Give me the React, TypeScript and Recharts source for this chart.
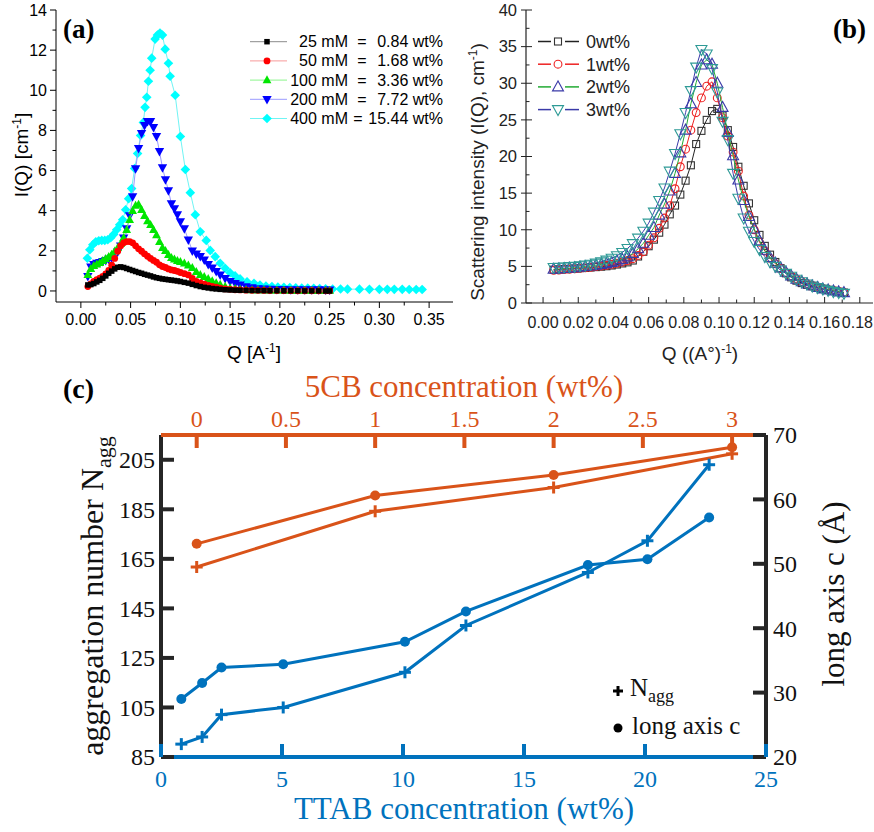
import React from 'react'
import { ScatterChart, Scatter, XAxis, YAxis } from 'recharts'

const SANS = '"Liberation Sans", Arial, sans-serif'
const SERIF = '"Liberation Serif", "Times New Roman", serif'

const ORANGE = '#D95319'
const BLUE = '#0072BD'
const DARK = '#262626'

// ---- (a) SANS curves, I(Q) in cm^-1 ----
const qA = [
  0.007, 0.01, 0.013, 0.016, 0.019, 0.022, 0.025, 0.028, 0.031, 0.034, 0.037, 0.04, 0.043, 0.046, 0.049, 0.052,
  0.055, 0.058, 0.061, 0.064, 0.067, 0.07, 0.073, 0.076, 0.079, 0.082, 0.085, 0.088, 0.091, 0.094, 0.097, 0.1,
  0.104, 0.108, 0.112, 0.116, 0.12, 0.124, 0.128, 0.132, 0.136, 0.14,
  0.145, 0.15, 0.155, 0.16,
  0.166, 0.172, 0.178, 0.184, 0.19,
  0.197, 0.204, 0.211, 0.218, 0.225, 0.232, 0.239, 0.246,
  0.25,
]
const iA25 = [
  0.3, 0.32, 0.37, 0.45, 0.53, 0.63, 0.75, 0.88, 0.99, 1.1, 1.18, 1.2, 1.17, 1.12, 1.07, 1.02,
  0.97, 0.92, 0.88, 0.83, 0.79, 0.75, 0.7, 0.66, 0.63, 0.6, 0.58, 0.56, 0.54, 0.52, 0.5, 0.47,
  0.43, 0.39, 0.33, 0.27, 0.22, 0.18, 0.15, 0.12, 0.1, 0.08,
  0.06, 0.05, 0.04, 0.035,
  0.03, 0.025, 0.02, 0.02, 0.015,
  0.015, 0.01, 0.01, 0.01, 0.005, 0.005, 0.005, 0.0,
  0.0,
]
const iA50 = [
  0.22, 0.35, 0.48, 0.56, 0.64, 0.72, 0.85, 1.02, 1.28, 1.62, 1.98, 2.25, 2.4, 2.46, 2.46, 2.4,
  2.25, 2.1, 1.98, 1.85, 1.73, 1.62, 1.52, 1.43, 1.3, 1.22, 1.17, 1.1, 1.05, 1.02, 0.98, 0.92,
  0.86, 0.8, 0.62, 0.48, 0.4, 0.34, 0.28, 0.23, 0.19, 0.14,
  0.1, 0.08, 0.06, 0.05,
  0.04, 0.035, 0.03, 0.025, 0.02,
  0.02, 0.015, 0.015, 0.01, 0.01, 0.01, 0.005, 0.005,
  0.005,
]
const iA100 = [
  0.8, 1.1, 1.25, 1.33, 1.4, 1.5, 1.6, 1.7, 1.82, 1.98, 2.15, 2.35, 2.65, 3.05, 3.55, 4.0,
  4.25, 4.3, 4.05, 3.75, 3.48, 3.3, 3.05, 2.78, 2.45, 2.15, 2.0, 1.8, 1.65, 1.58, 1.5, 1.45,
  1.38, 1.28, 1.15, 0.95, 0.8, 0.7, 0.6, 0.5, 0.4, 0.32,
  0.22, 0.15, 0.11, 0.08,
  0.06, 0.05, 0.045, 0.04, 0.035,
  0.03, 0.03, 0.025, 0.025, 0.02, 0.02, 0.02, 0.015,
  0.015,
]
const iA200 = [
  0.72, 1.2, 1.32, 1.38, 1.42, 1.47, 1.52, 1.58, 1.65, 1.75, 1.95, 2.25, 2.65, 3.1, 3.75, 4.7,
  6.1, 7.1, 7.85, 8.25, 8.45, 8.45, 8.15, 7.7, 6.95, 6.15, 5.55, 5.0, 4.35, 4.1, 3.8, 3.45,
  3.1, 2.55, 2.0, 1.85, 1.72, 1.55, 1.32, 1.15, 0.98, 0.8,
  0.62, 0.48, 0.38, 0.3,
  0.22, 0.16, 0.12, 0.1, 0.09,
  0.08, 0.08, 0.07, 0.07, 0.06, 0.06, 0.06, 0.05,
  0.05,
]
const qA400 = [
  0.0065, 0.009, 0.012, 0.015, 0.018, 0.021, 0.024, 0.027, 0.03, 0.033,
  0.036, 0.039, 0.042, 0.045, 0.048, 0.051, 0.054, 0.057, 0.06, 0.0628,
  0.0645, 0.0662, 0.0679, 0.0696, 0.0712, 0.0746, 0.077, 0.0795, 0.082, 0.0847,
  0.088, 0.0897, 0.0948, 0.1, 0.105, 0.11, 0.115, 0.12, 0.126, 0.13,
  0.135, 0.14, 0.145, 0.15, 0.155, 0.16, 0.167, 0.174, 0.18, 0.186,
  0.192, 0.198, 0.204, 0.21, 0.216, 0.222, 0.228, 0.234, 0.24, 0.246,
  0.253, 0.261, 0.268, 0.28, 0.29, 0.3, 0.308, 0.315, 0.323, 0.33,
  0.337, 0.343,
]
const iA400 = [
  1.63, 2.05, 2.3, 2.45, 2.5, 2.52, 2.52, 2.55, 2.65, 2.82,
  3.05, 3.3, 3.55, 4.05, 4.6, 5.1, 6.1, 6.85, 7.75, 8.4,
  9.15, 9.65, 10.45, 11.0, 11.6, 12.55, 12.75, 12.85, 12.75, 12.05,
  11.35, 10.7, 9.75, 7.7, 6.05, 4.9, 3.8, 2.95, 2.52, 2.02,
  1.71, 1.38, 1.13, 0.91, 0.75, 0.6, 0.46, 0.38, 0.3, 0.25,
  0.22, 0.2, 0.18, 0.17, 0.16, 0.15, 0.14, 0.13, 0.12, 0.11,
  0.1, 0.1, 0.09, 0.09, 0.08, 0.08, 0.08, 0.08, 0.08, 0.07,
  0.07, 0.07,
]
const legendA = [
  { conc: '25 mM', wt: '0.84 wt%' },
  { conc: '50 mM', wt: '1.68 wt%' },
  { conc: '100 mM', wt: '3.36 wt%' },
  { conc: '200 mM', wt: '7.72 wt%' },
  { conc: '400 mM', wt: '15.44 wt%' },
]

// ---- (b) SAXS curves with 5CB ----
const qB = [
  0.006, 0.009, 0.012, 0.015, 0.018, 0.021, 0.024, 0.027, 0.03, 0.033,
  0.036, 0.039, 0.042, 0.045, 0.048, 0.051, 0.054, 0.057, 0.06, 0.063,
  0.066, 0.069, 0.072, 0.075, 0.078, 0.081, 0.084, 0.087, 0.09, 0.093,
  0.096, 0.099, 0.102, 0.105, 0.108, 0.111, 0.114, 0.117, 0.12, 0.123,
  0.126, 0.129, 0.132, 0.135, 0.138, 0.141, 0.144, 0.147, 0.15, 0.153,
  0.156, 0.159, 0.162, 0.165, 0.168, 0.171,
]
const iB0 = [
  4.55, 4.58, 4.62, 4.66, 4.7, 4.75, 4.8, 4.85, 4.9, 4.96,
  5.02, 5.12, 5.25, 5.4, 5.55, 5.8, 6.35, 7.0, 7.75, 8.65,
  9.6, 10.7, 12.1, 13.3, 14.8, 16.7, 18.8, 21.7, 23.5, 25.0,
  26.2, 26.5, 25.6, 23.6, 21.3, 18.6, 16.0, 13.6, 11.3, 9.3,
  7.8, 6.6, 5.6, 4.75, 4.05, 3.5, 3.05, 2.72, 2.48, 2.27,
  2.07, 1.92, 1.79, 1.68, 1.55, 1.42,
]
const iB1 = [
  4.45, 4.5, 4.55, 4.6, 4.66, 4.72, 4.8, 4.88, 4.96, 5.05,
  5.15, 5.28, 5.42, 5.6, 5.8, 6.05, 6.5, 7.0, 7.9, 8.9,
  10.2, 11.6, 13.3, 15.6, 18.6, 21.0, 23.6, 26.0, 28.0, 29.6,
  30.2, 28.0, 25.3, 22.8, 20.6, 18.0, 14.6, 12.0, 10.0, 8.3,
  7.1, 6.1, 5.35, 4.7, 4.15, 3.7, 3.3, 2.95, 2.65, 2.4,
  2.2, 2.0, 1.85, 1.7, 1.58, 1.45,
]
const iB2 = [
  4.6, 4.65, 4.7, 4.75, 4.82, 4.9, 4.98, 5.06, 5.15, 5.26,
  5.38, 5.52, 5.7, 5.95, 6.3, 6.75, 7.4, 8.15, 9.25, 10.3,
  12.0, 13.5, 15.3, 17.7, 20.5, 23.6, 27.2, 30.1, 32.5, 33.2,
  32.6, 30.0, 26.7, 23.3, 20.1, 16.8, 14.0, 11.8, 10.1, 8.5,
  7.2, 6.2, 5.45, 4.8, 4.2, 3.7, 3.25, 2.9, 2.6, 2.35,
  2.12, 1.93, 1.78, 1.65, 1.52, 1.42,
]
const iB3 = [
  4.85, 4.88, 4.92, 4.96, 5.0, 5.08, 5.18, 5.3, 5.45, 5.62,
  5.85, 6.1, 6.45, 6.9, 7.45, 8.1, 8.85, 9.8, 10.9, 12.4,
  14.0, 15.7, 18.0, 20.4, 23.1, 26.0, 29.0, 32.2, 34.6, 34.0,
  32.0, 28.8, 24.8, 22.3, 17.7, 14.3, 11.6, 9.8, 8.4, 7.3,
  6.35, 5.6, 5.0, 4.5, 4.05, 3.65, 3.25, 2.9, 2.6, 2.32,
  2.1, 1.9, 1.72, 1.55, 1.42, 1.32,
]
const legendB = ['0wt%', '1wt%', '2wt%', '3wt%']

// ---- (c) micelle size vs. concentration ----
const ttabWt = [0.84, 1.7, 2.5, 5.05, 10.08, 12.6, 17.64, 20.1, 22.65]
const ttabNagg = [90.2, 93.1, 102.1, 105.0, 119.2, 138.1, 159.5, 172.3, 203.0]
const ttabAxisC = [29.0, 31.5, 33.9, 34.4, 37.9, 42.6, 49.8, 50.7, 57.2]
const cbWt = [0, 1, 2, 3]
const cbNagg = [161.7, 184.2, 193.8, 207.4]
const cbAxisC = [53.1, 60.6, 63.8, 68.1]

// axis ticks
const ticksAX = [0, 0.025, 0.05, 0.075, 0.1, 0.125, 0.15, 0.175, 0.2, 0.225, 0.25, 0.275, 0.3, 0.325, 0.35]
const labelsAX = [0, 0.05, 0.1, 0.15, 0.2, 0.25, 0.3, 0.35]
const ticksAY = [0, 1, 2, 3, 4, 5, 6, 7, 8, 9, 10, 11, 12, 13, 14]
const labelsAY = [0, 2, 4, 6, 8, 10, 12, 14]
const ticksBX = [0, 0.01, 0.02, 0.03, 0.04, 0.05, 0.06, 0.07, 0.08, 0.09, 0.1, 0.11, 0.12, 0.13, 0.14, 0.15, 0.16, 0.17, 0.18]
const labelsBX = [0, 0.02, 0.04, 0.06, 0.08, 0.1, 0.12, 0.14, 0.16, 0.18]
const ticksBY = [0, 2.5, 5, 7.5, 10, 12.5, 15, 17.5, 20, 22.5, 25, 27.5, 30, 32.5, 35, 37.5, 40]
const labelsBY = [0, 5, 10, 15, 20, 25, 30, 35, 40]
const ttabTicks = [0, 5, 10, 15, 20, 25]
const cbTicks = [0, 0.5, 1, 1.5, 2, 2.5, 3]
const naggTicks = [85, 105, 125, 145, 165, 185, 205]
const axisCTicks = [20, 30, 40, 50, 60, 70]

const zip = (xs: number[], ys: number[]) => xs.map((x, i) => ({ x, y: ys[i] }))

type Side = 'bottom' | 'top' | 'left' | 'right'
interface TickStyle {
  side: Side
  labels?: number[]
  fmt?: (v: number) => string
  major: number
  minor?: number
  inward?: boolean
  out?: number
  stroke: string
  width: number
  font?: string
  size?: number
  fill?: string
  gap?: number
  maxX?: number
}

// draws the tick mark itself plus its label; recharts hands us the point on the axis line
function makeTick(s: TickStyle) {
  return (props: any) => {
    const { x, y, payload } = props
    const v = payload?.value as number
    const isMajor = !s.labels || s.labels.some((l) => Math.abs(l - v) < 1e-9)
    const len = isMajor ? s.major : s.minor ?? 0
    const dir = s.inward ? -1 : 1
    const out = isMajor ? s.out ?? 0 : 0
    let x1 = x, y1 = y, x2 = x, y2 = y
    if (s.side === 'bottom') { y2 = y + dir * len; y1 = y + out }
    else if (s.side === 'top') { y2 = y - dir * len; y1 = y - out }
    else if (s.side === 'left') { x2 = x - dir * len; x1 = x - out }
    else { x2 = x + dir * len; x1 = x + out }
    const gap = s.gap ?? 0
    const txt = { fontFamily: s.font, fontSize: s.size, fill: s.fill }
    let label = null
    if (isMajor && s.fmt) {
      const str = s.fmt(v)
      if (s.side === 'bottom') {
        // keep the last label inside the chart's right edge
        const half = str.length * (s.size ?? 12) * 0.28
        const tooFar = s.maxX != null && x + half > s.maxX
        label = tooFar
          ? <text x={s.maxX} y={y + gap} textAnchor="end" {...txt}>{str}</text>
          : <text x={x} y={y + gap} textAnchor="middle" {...txt}>{str}</text>
      }
      else if (s.side === 'top') label = <text x={x} y={y - gap} textAnchor="middle" {...txt}>{str}</text>
      else if (s.side === 'left') label = <text x={x - gap} y={y} dy="0.35em" textAnchor="end" {...txt}>{str}</text>
      else label = <text x={x + gap} y={y} dy="0.35em" textAnchor="start" {...txt}>{str}</text>
    }
    return (
      <g>
        {len + out > 0 && <line x1={x1} y1={y1} x2={x2} y2={y2} stroke={s.stroke} strokeWidth={s.width} />}
        {label}
      </g>
    )
  }
}

// marker shapes
const square = (size: number, fill: string, stroke = 'none', sw = 0) => (p: any) =>
  p.cx == null ? <g /> : <rect x={p.cx - size / 2} y={p.cy - size / 2} width={size} height={size} fill={fill} stroke={stroke} strokeWidth={sw} />
const circle = (r: number, fill: string, stroke = 'none', sw = 0) => (p: any) =>
  p.cx == null ? <g /> : <circle cx={p.cx} cy={p.cy} r={r} fill={fill} stroke={stroke} strokeWidth={sw} />
const triUp = (s: number, fill: string, stroke = 'none', sw = 0) => (p: any) =>
  p.cx == null ? <g /> : (
    <polygon points={`${p.cx},${p.cy - s * 0.6} ${p.cx - s * 0.55},${p.cy + s * 0.4} ${p.cx + s * 0.55},${p.cy + s * 0.4}`} fill={fill} stroke={stroke} strokeWidth={sw} />
  )
const triDown = (s: number, fill: string, stroke = 'none', sw = 0) => (p: any) =>
  p.cx == null ? <g /> : (
    <polygon points={`${p.cx},${p.cy + s * 0.6} ${p.cx - s * 0.55},${p.cy - s * 0.4} ${p.cx + s * 0.55},${p.cy - s * 0.4}`} fill={fill} stroke={stroke} strokeWidth={sw} />
  )
const diamond = (s: number, fill: string) => (p: any) =>
  p.cx == null ? <g /> : (
    <polygon points={`${p.cx},${p.cy - s} ${p.cx + s},${p.cy} ${p.cx},${p.cy + s} ${p.cx - s},${p.cy}`} fill={fill} />
  )
const plus = (a: number, stroke: string, sw: number) => (p: any) =>
  p.cx == null ? <g /> : (
    <g stroke={stroke} strokeWidth={sw}>
      <line x1={p.cx - a} y1={p.cy} x2={p.cx + a} y2={p.cy} />
      <line x1={p.cx} y1={p.cy - a} x2={p.cx} y2={p.cy + a} />
    </g>
  )

const seriesA = [
  { data: zip(qA400, iA400), line: '#70f4f4', shape: diamond(4.8, '#00ffff') },
  { data: zip(qA, iA200), line: '#9a9aff', shape: triDown(8.5, '#0000ff') },
  { data: zip(qA, iA100), line: '#8cf58c', shape: triUp(8, '#00e600') },
  { data: zip(qA, iA50), line: '#f79a9a', shape: circle(3.4, '#ff0000') },
  { data: zip(qA, iA25), line: '#8c8c8c', shape: square(5.5, '#000000') },
]
const legendShapesA = [square(5.5, '#000000'), circle(3.4, '#ff0000'), triUp(8, '#00e600'), triDown(8.5, '#0000ff'), diamond(4.8, '#00ffff')]
const legendLinesA = ['#8c8c8c', '#f79a9a', '#8cf58c', '#9a9aff', '#70f4f4']

const seriesB = [
  { data: zip(qB, iB0), line: '#222222', shape: square(7, 'none', '#333333', 1.1) },
  { data: zip(qB, iB1), line: '#ee2222', shape: circle(3.9, 'none', '#ee2222', 1.1) },
  { data: zip(qB, iB2), line: '#22aa33', shape: triUp(10, 'none', '#3a3aa8', 1.1) },
  { data: zip(qB, iB3), line: '#3a3aa8', shape: triDown(10, 'none', '#2e9a96', 1.1) },
]

function PanelA() {
  const frame = { stroke: '#000', strokeWidth: 1 }
  return (
    <div style={{ position: 'absolute', left: 0, top: 0 }}>
      <ScatterChart width={460} height={340} margin={{ top: 10, right: 7, bottom: 0, left: 0 }}>
        <XAxis xAxisId="b" dataKey="x" type="number" domain={[-0.025, 0.374]} allowDataOverflow ticks={ticksAX} interval={0}
          height={38} axisLine={frame} tickLine={false} tickSize={0} tickMargin={0}
          tick={makeTick({ side: 'bottom', labels: labelsAX, fmt: (v) => v.toFixed(2), major: 6, minor: 3.5, stroke: '#000', width: 1, font: SANS, size: 16, fill: '#000', gap: 23 })} />
        <XAxis xAxisId="t" orientation="top" dataKey="x" type="number" domain={[-0.025, 0.374]} allowDataOverflow height={0} axisLine={frame} tick={false} tickLine={false} />
        <YAxis yAxisId="l" dataKey="y" type="number" domain={[-0.55, 14]} allowDataOverflow ticks={ticksAY} interval={0}
          width={56} axisLine={frame} tickLine={false} tickSize={0} tickMargin={0}
          tick={makeTick({ side: 'left', labels: labelsAY, fmt: (v) => String(v), major: 6, minor: 3.5, stroke: '#000', width: 1, font: SANS, size: 16, fill: '#000', gap: 9 })} />
        <YAxis yAxisId="r" orientation="right" dataKey="y" type="number" domain={[-0.55, 14]} allowDataOverflow width={0} axisLine={frame} tick={false} tickLine={false} />
        {seriesA.map((s, i) => (
          <Scatter key={i} xAxisId="b" yAxisId="l" data={s.data} line={{ stroke: s.line, strokeWidth: 1 }} lineType="joint" shape={s.shape} isAnimationActive={false} />
        ))}
      </ScatterChart>
    </div>
  )
}

function PanelB() {
  const frame = { stroke: '#222', strokeWidth: 1.2 }
  const base = { stroke: '#222', width: 1, major: 6, minor: 3.5, inward: true }
  return (
    <div style={{ position: 'absolute', left: 460, top: 0 }}>
      <ScatterChart width={414} height={340} margin={{ top: 10, right: 1, bottom: 0, left: 0 }}>
        <XAxis xAxisId="b" dataKey="x" type="number" domain={[-0.0097, 0.1875]} allowDataOverflow ticks={ticksBX} interval={0}
          height={37} axisLine={frame} tickLine={false} tickSize={0} tickMargin={0}
          tick={makeTick({ ...base, side: 'bottom', labels: labelsBX, fmt: (v) => v.toFixed(2), font: SANS, size: 16, fill: '#222', gap: 25, maxX: 413 })} />
        <XAxis xAxisId="t" orientation="top" dataKey="x" type="number" domain={[-0.0097, 0.1875]} allowDataOverflow ticks={ticksBX} interval={0}
          height={0} axisLine={frame} tickLine={false} tickSize={0} tickMargin={0}
          tick={makeTick({ ...base, side: 'top', labels: labelsBX })} />
        <YAxis yAxisId="l" dataKey="y" type="number" domain={[0, 40]} allowDataOverflow ticks={ticksBY} interval={0}
          width={66} axisLine={frame} tickLine={false} tickSize={0} tickMargin={0}
          tick={makeTick({ ...base, side: 'left', labels: labelsBY, out: 5, fmt: (v) => String(v), font: SANS, size: 16.5, fill: '#222', gap: 9 })} />
        <YAxis yAxisId="r" orientation="right" dataKey="y" type="number" domain={[0, 40]} allowDataOverflow ticks={ticksBY} interval={0}
          width={0} axisLine={frame} tickLine={false} tickSize={0} tickMargin={0}
          tick={makeTick({ ...base, side: 'right', labels: labelsBY })} />
        {seriesB.map((s, i) => (
          <Scatter key={i} xAxisId="b" yAxisId="l" data={s.data} line={{ stroke: s.line, strokeWidth: 1 }} lineType="joint" shape={s.shape} isAnimationActive={false} />
        ))}
      </ScatterChart>
    </div>
  )
}

function PanelC() {
  const tickTxt = { font: SERIF, size: 24 }
  return (
    <div style={{ position: 'absolute', left: 0, top: 360 }}>
      <ScatterChart width={874} height={472} margin={{ top: 0, right: 0, bottom: 0, left: 0 }}>
        <YAxis yAxisId="n" dataKey="y" type="number" domain={[85, 215]} allowDataOverflow ticks={naggTicks} interval={0}
          width={161} axisLine={{ stroke: DARK, strokeWidth: 4 }} tickLine={false} tickSize={0} tickMargin={0}
          tick={makeTick({ side: 'left', labels: naggTicks, fmt: (v) => String(v), major: 13, inward: true, stroke: DARK, width: 4, ...tickTxt, fill: '#111', gap: 6 })} />
        <YAxis yAxisId="c" orientation="right" dataKey="y" type="number" domain={[20, 70]} allowDataOverflow ticks={axisCTicks} interval={0}
          width={108} axisLine={{ stroke: DARK, strokeWidth: 4 }} tickLine={false} tickSize={0} tickMargin={0}
          tick={makeTick({ side: 'right', labels: axisCTicks, fmt: (v) => String(v), major: 13, inward: true, stroke: DARK, width: 4, ...tickTxt, fill: '#111', gap: 7 })} />
        <XAxis xAxisId="ttab" dataKey="x" type="number" domain={[0, 25]} allowDataOverflow ticks={ttabTicks} interval={0}
          height={75} axisLine={{ stroke: BLUE, strokeWidth: 4 }} tickLine={false} tickSize={0} tickMargin={0}
          tick={makeTick({ side: 'bottom', labels: ttabTicks, fmt: (v) => String(v), major: 13, inward: true, stroke: BLUE, width: 4, ...tickTxt, fill: BLUE, gap: 30 })} />
        <XAxis xAxisId="cb" orientation="top" dataKey="x" type="number" domain={[-0.2, 3.19]} allowDataOverflow ticks={cbTicks} interval={0}
          height={75} axisLine={{ stroke: ORANGE, strokeWidth: 4 }} tickLine={false} tickSize={0} tickMargin={0}
          tick={makeTick({ side: 'top', labels: cbTicks, fmt: (v) => String(v), major: 13, inward: true, stroke: ORANGE, width: 4, ...tickTxt, fill: ORANGE, gap: 8 })} />
        <Scatter xAxisId="cb" yAxisId="n" data={zip(cbWt, cbNagg)} line={{ stroke: ORANGE, strokeWidth: 3 }} lineType="joint" shape={plus(6, ORANGE, 3)} isAnimationActive={false} />
        <Scatter xAxisId="cb" yAxisId="c" data={zip(cbWt, cbAxisC)} line={{ stroke: ORANGE, strokeWidth: 3 }} lineType="joint" shape={circle(5, ORANGE)} isAnimationActive={false} />
        <Scatter xAxisId="ttab" yAxisId="n" data={zip(ttabWt, ttabNagg)} line={{ stroke: BLUE, strokeWidth: 3 }} lineType="joint" shape={plus(6, BLUE, 3)} isAnimationActive={false} />
        <Scatter xAxisId="ttab" yAxisId="c" data={zip(ttabWt, ttabAxisC)} line={{ stroke: BLUE, strokeWidth: 3 }} lineType="joint" shape={circle(5, BLUE)} isAnimationActive={false} />
      </ScatterChart>
    </div>
  )
}

// titles, panel letters and legends on top of the three charts
function Annotations() {
  const rowsA = [41.7, 60.9, 80.1, 99.3, 118.5]
  const rowsB = [41.5, 64.2, 86.9, 109.6]
  return (
    <svg width={874} height={832} style={{ position: 'absolute', left: 0, top: 0, pointerEvents: 'none' }}>
      {/* (a) */}
      <text x={63} y={38} fontFamily={SERIF} fontWeight="bold" fontSize={27}>(a)</text>
      <text transform="translate(28,155) rotate(-90)" textAnchor="middle" fontFamily={SANS} fontSize={19}>
        I(Q) [cm<tspan dy={-7} fontSize={12}>-1</tspan><tspan dy={7}>]</tspan>
      </text>
      <text x={254} y={359} textAnchor="middle" fontFamily={SANS} fontSize={19}>
        Q [A<tspan dy={-7} fontSize={12}>-1</tspan><tspan dy={7}>]</tspan>
      </text>
      {legendA.map((r, i) => (
        <g key={r.conc} fontFamily={SANS} fontSize={16}>
          <line x1={250} x2={287} y1={rowsA[i]} y2={rowsA[i]} stroke={legendLinesA[i]} strokeWidth={1} />
          {legendShapesA[i]({ cx: 267, cy: rowsA[i] })}
          <text x={348} y={rowsA[i] + 5.5} textAnchor="end">{r.conc}</text>
          <text x={i === 4 ? 358 : 362} y={rowsA[i] + 5.5} textAnchor="middle">=</text>
          <text x={443} y={rowsA[i] + 5.5} textAnchor="end">{r.wt}</text>
        </g>
      ))}

      {/* (b) */}
      <text x={833} y={38} fontFamily={SERIF} fontWeight="bold" fontSize={27}>(b)</text>
      <text transform="translate(484,172) rotate(-90)" textAnchor="middle" fontFamily={SANS} fontSize={19} fill="#222">
        Scattering intensity (I(Q), cm<tspan dy={-7} fontSize={12}>-1</tspan><tspan dy={7}>)</tspan>
      </text>
      <text x={700} y={360} textAnchor="middle" fontFamily={SANS} fontSize={19} fill="#222">
        Q ((A°)<tspan dy={-7} fontSize={12}>-1</tspan><tspan dy={7}>)</tspan>
      </text>
      {legendB.map((lab, i) => (
        <g key={lab}>
          <line x1={538} x2={551} y1={rowsB[i]} y2={rowsB[i]} stroke={seriesB[i].line} strokeWidth={1.5} />
          <line x1={565} x2={579} y1={rowsB[i]} y2={rowsB[i]} stroke={seriesB[i].line} strokeWidth={1.5} />
          {seriesB[i].shape({ cx: 558, cy: rowsB[i] })}
          <text x={586} y={rowsB[i] + 6.5} fontFamily={SANS} fontSize={18} fill="#222">{lab}</text>
        </g>
      ))}

      {/* (c) */}
      <text x={63} y={398} fontFamily={SERIF} fontWeight="bold" fontSize={28}>(c)</text>
      <text x={464} y={397} textAnchor="middle" fontFamily={SERIF} fontSize={31} fill={ORANGE}>5CB concentration (wt%)</text>
      <text x={464} y={819} textAnchor="middle" fontFamily={SERIF} fontSize={31} fill={BLUE}>TTAB concentration (wt%)</text>
      <text transform="translate(103,596) rotate(-90)" textAnchor="middle" fontFamily={SERIF} fontSize={32} fill="#111">
        aggregation number N<tspan dy={8} fontSize={22}>agg</tspan>
      </text>
      <text transform="translate(844,594) rotate(-90)" textAnchor="middle" fontFamily={SERIF} fontSize={31} fill="#111">
        long axis c (Å)
      </text>
      {plus(5, '#000', 3)({ cx: 618, cy: 691 })}
      <text x={630} y={696} fontFamily={SERIF} fontSize={25} fill="#111">
        N<tspan dy={6} fontSize={18}>agg</tspan>
      </text>
      {circle(4.5, '#000')({ cx: 618, cy: 728 })}
      <text x={632} y={734} fontFamily={SERIF} fontSize={25} fill="#111">long axis c</text>
    </svg>
  )
}

export default function App() {
  return (
    <div style={{ position: 'absolute', left: 0, top: 0, width: 874, height: 832, background: '#fff' }}>
      <PanelA />
      <PanelB />
      <PanelC />
      <Annotations />
    </div>
  )
}
